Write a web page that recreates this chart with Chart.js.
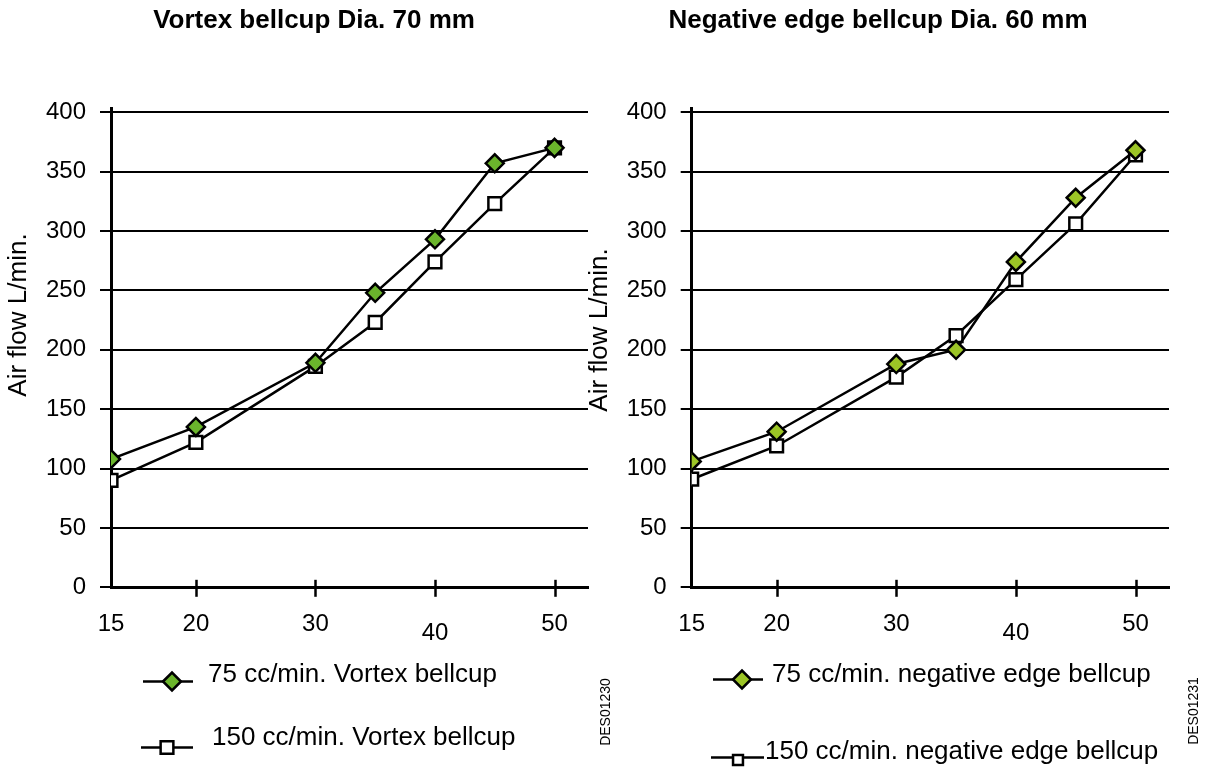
<!DOCTYPE html>
<html>
<head>
<meta charset="utf-8">
<title>Bellcup air flow</title>
<script src="https://cdn.jsdelivr.net/npm/chart.js@4.4.1/dist/chart.umd.min.js"></script>
<style>
  html, body { margin: 0; padding: 0; background: #fff; }
  #wrap { position: relative; width: 1208px; height: 769px; overflow: hidden; }
  canvas { position: absolute; top: 0; }
  #vortex { left: 0; }
  #negative { left: 580px; }
</style>
</head>
<body>
<div id="wrap">
  <canvas id="vortex" width="620" height="769"></canvas>
  <canvas id="negative" width="628" height="769"></canvas>
</div>
<script>
// x values of the measured points, and the tick values on both axes
const xValues = [15, 20, 30, 35, 40, 45, 50];
const xTickValues = [15, 20, 30, 40, 50];
const yTickValues = [0, 50, 100, 150, 200, 250, 300, 350, 400];

// air flow, L/min.
const vortex75 = [108, 135, 189, 248, 293, 357, 370];
const vortex150 = [90, 122, 186, 223, 274, 323, 370];
const negEdge75 = [106, 131, 188, 200, 274, 328, 368];
const negEdge150 = [91, 119, 177, 212, 259, 306, 364];

Chart.defaults.font.family = "'Liberation Sans', Arial, sans-serif";
Chart.defaults.color = '#000';

// linear axis whose first segment (below stretchBelow) is drawn wider
class StretchedScale extends Chart.LinearScale {
  static id = 'stretched';
  static defaults = Chart.LinearScale.defaults;

  warp(v) {
    const b = this.options.stretchBelow, f = this.options.stretchFactor;
    return v < b ? b - (b - v) * f : v;
  }
  unwarp(w) {
    const b = this.options.stretchBelow, f = this.options.stretchFactor;
    return w < b ? b - (b - w) / f : w;
  }
  configure() {
    super.configure();
    this._startValue = this.warp(this.min);
    this._valueRange = this._endValue - this._startValue;
  }
  getPixelForValue(value) {
    return value === null ? NaN : super.getPixelForValue(this.warp(value));
  }
  getValueForPixel(pixel) {
    return this.unwarp(super.getValueForPixel(pixel));
  }
}
Chart.register(StretchedScale);

function drawMarker(ctx, style, x, y, r) {
  ctx.beginPath();
  if (style === 'rectRot') {
    ctx.moveTo(x - r, y);
    ctx.lineTo(x, y - r);
    ctx.lineTo(x + r, y);
    ctx.lineTo(x, y + r);
  } else {
    const h = r * Math.SQRT1_2;
    ctx.rect(x - h, y - h, 2 * h, 2 * h);
  }
  ctx.closePath();
  ctx.fill();
  ctx.stroke();
}

// short tick marks crossing the x axis (none at the origin)
const crossTicks = {
  id: 'crossTicks',
  beforeDatasetsDraw(chart) {
    const sx = chart.scales.x, ctx = chart.ctx, y0 = sx.top;
    ctx.save();
    ctx.strokeStyle = '#000';
    ctx.lineWidth = 2.5;
    sx.ticks.forEach(t => {
      if (t.value === sx.min) return;
      const px = Math.round(sx.getPixelForValue(t.value)) + 0.5;
      ctx.beginPath();
      ctx.moveTo(px, y0 - 7.5);
      ctx.lineTo(px, y0 + 9.5);
      ctx.stroke();
    });
    ctx.restore();
  }
};

// free text: rotated axis caption and drawing number
function captions(items) {
  return {
    id: 'captions',
    afterDraw(chart) {
      const ctx = chart.ctx;
      items.forEach(c => {
        ctx.save();
        ctx.translate(c.x, c.y);
        ctx.rotate(c.rotation * Math.PI / 180);
        ctx.font = c.font;
        ctx.fillStyle = '#000';
        ctx.textAlign = 'center';
        ctx.textBaseline = 'middle';
        ctx.fillText(c.text, 0, 0);
        ctx.restore();
      });
    }
  };
}

// legend rows: a short line with the series marker, then the label
function lineLegend(rows) {
  return {
    id: 'lineLegend',
    afterDraw(chart) {
      const ctx = chart.ctx;
      ctx.save();
      rows.forEach((row, i) => {
        const ds = chart.data.datasets[i];
        ctx.strokeStyle = '#000';
        ctx.lineWidth = 2.5;
        ctx.beginPath();
        ctx.moveTo(row.x1, row.y);
        ctx.lineTo(row.x2, row.y);
        ctx.stroke();
        ctx.fillStyle = ds.pointBackgroundColor;
        ctx.lineWidth = ds.pointBorderWidth;
        drawMarker(ctx, ds.pointStyle, row.mx, row.my || row.y, row.r);
        ctx.fillStyle = '#000';
        ctx.font = "26px 'Liberation Sans', Arial, sans-serif";
        ctx.textBaseline = 'alphabetic';
        ctx.fillText(ds.label, row.tx, row.ty);
      });
      ctx.restore();
    }
  };
}

function series(label, data, style, fill) {
  return {
    label: label,
    data: data,
    borderColor: '#000',
    borderWidth: 2.5,
    tension: 0,
    fill: false,
    pointStyle: style,
    pointRadius: 9,
    pointBackgroundColor: fill,
    pointBorderColor: '#000',
    pointBorderWidth: 2.5
  };
}

function buildChart(id, cfg) {
  return new Chart(document.getElementById(id), {
    type: 'line',
    data: {
      labels: xValues,
      datasets: cfg.datasets
    },
    options: {
      responsive: false,
      animation: false,
      events: [],
      layout: { padding: cfg.padding },
      plugins: {
        legend: { display: false },
        tooltip: { enabled: false },
        title: {
          display: true,
          text: cfg.title,
          color: '#000',
          font: { size: 26, weight: 'bold' },
          padding: { top: 5, bottom: 72 }
        }
      },
      scales: {
        x: {
          type: 'stretched',
          position: 'bottom',
          min: 15,
          max: 52.8,
          stretchBelow: 20,
          stretchFactor: 1.42,
          afterBuildTicks: s => { s.ticks = xTickValues.map(v => ({ value: v })); },
          afterFit: s => { s.height = 181.7; },
          grid: { display: false },
          border: { color: '#000', width: 3 },
          ticks: {
            autoSkip: false,
            maxRotation: 0,
            padding: 15,
            color: '#000',
            // the 40 label sits a little lower than the others
            font: c => ({ size: 24, lineHeight: c.tick && c.tick.value === 40 ? '46px' : '28px' })
          }
        },
        y: {
          min: 0,
          max: 403.4,
          afterBuildTicks: s => { s.ticks = yTickValues.map(v => ({ value: v })); },
          afterFit: s => { s.width = cfg.yWidth; },
          grid: { color: '#000', lineWidth: 2, tickLength: 11 },
          border: { color: '#000', width: 3 },
          ticks: { padding: 14, color: '#000', font: { size: 24 } }
        }
      }
    },
    plugins: [crossTicks, captions(cfg.captions), lineLegend(cfg.legend)]
  });
}

buildChart('vortex', {
  title: 'Vortex bellcup Dia. 70 mm',
  padding: { left: 40, right: 32, top: 0, bottom: 0 },
  yWidth: 71,
  datasets: [
    series('75 cc/min. Vortex bellcup', vortex75, 'rectRot', '#6BB52C'),
    series('150 cc/min. Vortex bellcup', vortex150, 'rect', '#fff')
  ],
  captions: [
    { text: 'Air flow L/min.', x: 19, y: 315, rotation: -90, font: "26px 'Liberation Sans', Arial, sans-serif" },
    { text: 'DES01230', x: 606, y: 712, rotation: -90, font: "14px 'Liberation Sans', Arial, sans-serif" }
  ],
  legend: [
    { x1: 143, x2: 193, y: 681.5, mx: 172, r: 9, tx: 208, ty: 681.5 },
    { x1: 141, x2: 193, y: 747.5, mx: 167, r: 9, tx: 212, ty: 745 }
  ]
});

buildChart('negative', {
  title: 'Negative edge bellcup Dia. 60 mm',
  padding: { left: 7, right: 39, top: 0, bottom: 0 },
  yWidth: 104.7,
  datasets: [
    series('75 cc/min. negative edge bellcup', negEdge75, 'rectRot', '#9CC526'),
    series('150 cc/min. negative edge bellcup', negEdge150, 'rect', '#fff')
  ],
  captions: [
    { text: 'Air flow L/min.', x: 20, y: 330, rotation: -90, font: "26px 'Liberation Sans', Arial, sans-serif" },
    { text: 'DES01231', x: 614, y: 711, rotation: -90, font: "14px 'Liberation Sans', Arial, sans-serif" }
  ],
  legend: [
    { x1: 133, x2: 183, y: 679.5, mx: 162, r: 9, tx: 192, ty: 681.5 },
    { x1: 131, x2: 184, y: 757.5, mx: 158, my: 760, r: 7, tx: 185, ty: 759 }
  ]
});
</script>
</body>
</html>
